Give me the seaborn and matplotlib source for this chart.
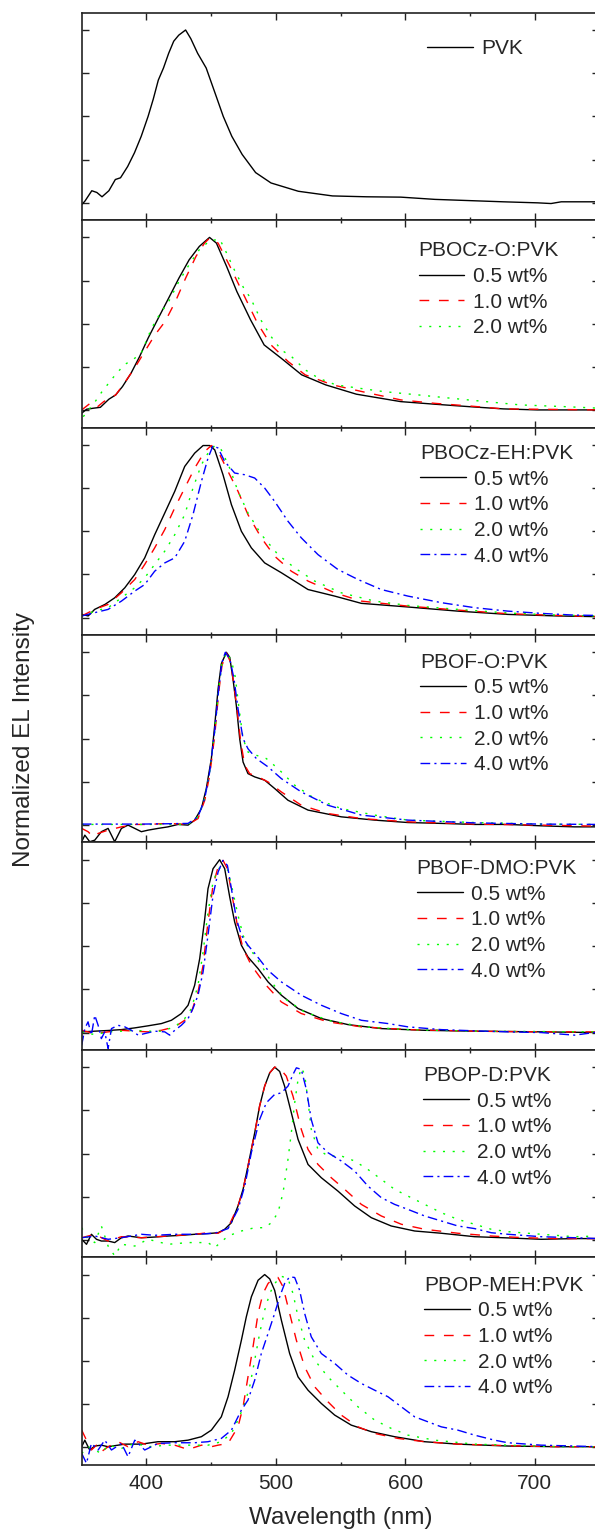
import numpy as np
import pandas as pd
import matplotlib
matplotlib.use("Agg")
import matplotlib.pyplot as plt
from matplotlib.ticker import FixedLocator
import seaborn as sns

# ---------------- data ----------------
CONCS = ["0.5 wt%", "1.0 wt%", "2.0 wt%", "4.0 wt%"]
COLORS = ["#000000", "#FF0000", "#00FF00", "#0000FF"]
PANEL_TITLES = ["PVK", "PBOCz-O:PVK", "PBOCz-EH:PVK", "PBOF-O:PVK",
                "PBOF-DMO:PVK", "PBOP-D:PVK", "PBOP-MEH:PVK"]
X_TICKS = [400, 500, 600, 700]
X_MINOR = [450, 550, 650]
Y_TICKS = [0, 0.25, 0.5, 0.75, 1.0]

# Panel 1: PVK
PVK_WL = [350, 352.5, 357.8, 361.7, 365.7, 371, 376, 380, 385.5, 390.8, 396, 401.3, 405.3, 409.2, 413.2,
          417.2, 421.1, 425, 430.3, 434.3, 439.6, 446.2, 454, 459.4, 466, 474, 484.4, 496.3, 517.4,
          543.8, 570.2, 596.6, 623, 649.5, 675.9, 702.3, 712.7, 720.6, 750]
PVK_I = [-0.01, 0.01, 0.07, 0.06, 0.035, 0.07, 0.135, 0.145, 0.21, 0.29, 0.385, 0.5, 0.6, 0.71, 0.78,
         0.865, 0.935, 0.97, 1.0, 0.95, 0.865, 0.78, 0.615, 0.5, 0.385, 0.28, 0.175, 0.115, 0.067,
         0.04, 0.035, 0.033, 0.02, 0.013, 0.006, 0.0, -0.004, 0.006, 0.006]

# Panel 2: PBOCz-O:PVK
P2_05_WL = [350, 353.8, 359.1, 364.4, 371, 376.3, 381.5, 388.1, 394.7, 401.3, 409.2, 417.2, 425.1, 433,
            440.9, 448.8, 454.1, 462, 469.9, 480.5, 491, 504.2, 520, 538.5, 562.3, 596.6, 623, 649.3,
            675.7, 702.1, 750]
P2_05_I = [-0.017, 0.006, 0.012, 0.017, 0.064, 0.089, 0.137, 0.214, 0.31, 0.417, 0.533, 0.649, 0.764,
           0.87, 0.948, 1.0, 0.967, 0.832, 0.687, 0.523, 0.378, 0.301, 0.205, 0.147, 0.093, 0.05, 0.035,
           0.021, 0.008, 0.002, 0.002]
P2_10_WL = [350, 356.5, 361.7, 367, 376.3, 382.8, 390.8, 398.7, 406.6, 414.5, 422.4, 430.3, 438.3, 444.9,
            448.8, 455.4, 464.6, 475.2, 485.8, 496.3, 509.5, 522.7, 543.8, 570.2, 596.6, 623, 649.3,
            675.7, 702.1, 750]
P2_10_I = [0.002, 0.04, 0.017, 0.05, 0.089, 0.156, 0.243, 0.34, 0.436, 0.514, 0.629, 0.764, 0.89, 0.967,
           0.996, 0.967, 0.832, 0.668, 0.504, 0.378, 0.282, 0.205, 0.147, 0.102, 0.06, 0.04, 0.025,
           0.008, 0.006, 0.002]
P2_20_WL = [351.2, 360.4, 365.7, 374.9, 382.8, 389.4, 396, 404, 409.2, 417.2, 425.1, 433, 440.9, 448.8,
            456.7, 462, 467.3, 475.2, 480.5, 488.4, 496.3, 504.2, 512.1, 522.7, 533.2, 546.4, 564.9,
            583.4, 609.8, 636.2, 662.5, 688.9, 723.2, 750]
P2_20_I = [-0.037, 0.05, 0.108, 0.195, 0.263, 0.292, 0.33, 0.475, 0.542, 0.629, 0.745, 0.842, 0.929,
           0.98, 0.99, 0.909, 0.822, 0.707, 0.649, 0.523, 0.427, 0.349, 0.311, 0.234, 0.185, 0.147,
           0.127, 0.108, 0.089, 0.069, 0.05, 0.031, 0.021, 0.012]

# Panel 3: PBOCz-EH:PVK
P3_05_WL = [350, 355, 360, 368, 375.5, 383.3, 391, 398.7, 406.4, 414.2, 421.9, 429.6, 437.3, 443.8,
            448.9, 452.8, 459.2, 465.7, 473.4, 481.1, 491.4, 504.3, 524.9, 545.5, 566.1, 602.1, 640.7,
            679.4, 718, 750]
P3_05_I = [0.02, 0.01, 0.048, 0.077, 0.115, 0.173, 0.25, 0.346, 0.48, 0.606, 0.731, 0.875, 0.952, 0.996,
           0.996, 0.971, 0.827, 0.654, 0.5, 0.404, 0.317, 0.26, 0.163, 0.125, 0.083, 0.062, 0.038,
           0.019, 0.01, 0.006]
P3_10_WL = [350, 360, 370.4, 380.7, 391, 398.7, 406.4, 414.2, 421.9, 429.6, 437.3, 445.1, 450.2, 455.4,
            463.1, 470.8, 478.5, 488.8, 499.1, 512, 524.9, 545.5, 566.1, 602.1, 640.7, 679.4, 718, 750]
P3_10_I = [0.01, 0.048, 0.077, 0.144, 0.221, 0.308, 0.404, 0.51, 0.635, 0.75, 0.865, 0.962, 0.996, 0.962,
           0.846, 0.731, 0.596, 0.462, 0.356, 0.269, 0.212, 0.144, 0.096, 0.067, 0.044, 0.023, 0.013,
           0.006]
P3_20_WL = [350, 360, 370.4, 380.7, 391, 398.7, 406.4, 414.2, 421.9, 429.6, 436, 442.5, 447.6, 452.8,
            457.9, 464.4, 470.8, 478.5, 488.8, 501.7, 514.6, 530, 550.6, 576.4, 602.1, 640.7, 679.4,
            718, 750]
P3_20_I = [0.01, 0.038, 0.058, 0.115, 0.173, 0.231, 0.308, 0.385, 0.48, 0.596, 0.75, 0.885, 0.952, 0.996,
           0.971, 0.865, 0.731, 0.606, 0.481, 0.365, 0.288, 0.212, 0.144, 0.096, 0.071, 0.048, 0.027,
           0.015, 0.01]
P3_40_WL = [350, 360, 370.4, 380.7, 391, 398.7, 406.4, 414.2, 421.9, 429.6, 436, 442.5, 447.6, 451.5,
            455.4, 460.5, 468.2, 476, 483.7, 491.4, 499.1, 509.4, 519.7, 532.6, 548, 563.5, 581.5,
            602.1, 627.9, 653.6, 679.4, 705.1, 730.8, 750]
P3_40_I = [0.01, 0.029, 0.048, 0.096, 0.154, 0.192, 0.269, 0.317, 0.346, 0.442, 0.596, 0.788, 0.923,
           0.996, 0.981, 0.904, 0.837, 0.827, 0.808, 0.75, 0.673, 0.558, 0.462, 0.365, 0.279, 0.221,
           0.163, 0.125, 0.087, 0.058, 0.038, 0.025, 0.015, 0.013]

# Panel 4: PBOF-O:PVK
P4_05_WL = [350, 352.4, 356.2, 360.1, 365.2, 370.4, 375.5, 380.7, 385.8, 391, 396.1, 401.3, 409, 416.7,
            424.5, 432.2, 437.3, 442.5, 446.3, 450.2, 452.8, 455.4, 457.9, 461.8, 464.4, 466.9, 469.5,
            472.1, 474.7, 478.5, 483.7, 491.4, 499.1, 509.4, 524.9, 550.6, 576.4, 602.1, 627.9, 653.6,
            679.4, 705.1, 730.8, 750]
P4_05_I = [-0.096, -0.058, -0.096, -0.087, -0.038, -0.019, -0.096, -0.019, 0.0, -0.019, -0.038, -0.029,
           -0.019, -0.01, 0.004, 0.0, 0.029, 0.096, 0.212, 0.385, 0.577, 0.788, 0.933, 1.0, 0.971, 0.846,
           0.692, 0.5, 0.365, 0.298, 0.279, 0.26, 0.212, 0.144, 0.087, 0.048, 0.029, 0.015, 0.01, 0.004,
           0.004, -0.004, -0.01, -0.01]
P4_10_WL = [350, 354.9, 358.8, 362.7, 370.4, 380.7, 391, 401.3, 416.7, 432.2, 439.9, 445.1, 448.9, 452.8,
            455.9, 458.4, 461.8, 465.1, 467.7, 470.3, 472.9, 476, 479.8, 486.3, 494, 504.3, 519.7,
            540.3, 566.1, 602.1, 653.6, 705.1, 750]
P4_10_I = [-0.019, -0.038, -0.067, -0.048, -0.029, -0.01, 0.004, 0.004, 0.01, 0.004, 0.038, 0.144, 0.288,
           0.519, 0.769, 0.923, 0.996, 0.942, 0.808, 0.654, 0.481, 0.346, 0.298, 0.279, 0.25, 0.192,
           0.115, 0.067, 0.038, 0.019, 0.006, 0.0, -0.006]
P4_20_WL = [350, 370.4, 396.1, 416.7, 432.2, 439.9, 445.1, 448.9, 452.8, 455.9, 458.4, 461.8, 465.7,
            468.7, 471.3, 474.7, 478.5, 485, 492.7, 501.7, 514.6, 530, 550.6, 576.4, 602.1, 653.6,
            705.1, 750]
P4_20_I = [0.004, 0.004, 0.004, 0.004, 0.004, 0.048, 0.154, 0.308, 0.538, 0.788, 0.933, 1.0, 0.952,
           0.856, 0.692, 0.5, 0.423, 0.404, 0.385, 0.327, 0.231, 0.154, 0.096, 0.058, 0.029, 0.015,
           0.006, 0.004]
P4_40_WL = [350, 370.4, 396.1, 416.7, 432.2, 439.9, 445.1, 448.9, 452.8, 455.9, 458.4, 461, 464.4, 467.7,
            470.8, 474.7, 478.5, 485, 494, 504.3, 519.7, 540.3, 566.1, 602.1, 653.6, 705.1, 750]
P4_40_I = [0.006, 0.006, 0.006, 0.008, 0.01, 0.048, 0.154, 0.308, 0.548, 0.788, 0.942, 1.0, 0.962, 0.846,
           0.673, 0.5, 0.442, 0.385, 0.337, 0.269, 0.192, 0.115, 0.058, 0.029, 0.013, 0.006, 0.004]

# Panel 5: PBOF-DMO:PVK
P5_05_WL = [350, 360.1, 370.4, 380.7, 391, 401.3, 411.6, 419.3, 427, 432.2, 437.3, 441.2, 445.1, 447.6,
            451.5, 456.6, 460.5, 464.4, 468.2, 473.4, 478.5, 486.3, 494, 504.3, 517.2, 535.2, 555.8,
            581.5, 615, 653.6, 705.1, 750]
P5_05_I = [0.004, 0.008, 0.012, 0.017, 0.027, 0.039, 0.052, 0.071, 0.11, 0.158, 0.274, 0.428, 0.659,
           0.832, 0.948, 1.0, 0.948, 0.784, 0.64, 0.505, 0.437, 0.37, 0.293, 0.216, 0.139, 0.081, 0.046,
           0.023, 0.013, 0.008, 0.004, 0.0]
P5_10_WL = [350, 360.1, 370.4, 380.7, 391, 401.3, 411.6, 421.9, 429.6, 434.8, 439.9, 443.8, 447.6, 451.5,
            455.4, 459.2, 462.6, 466.2, 470.3, 474.7, 481.1, 491.4, 504.3, 519.7, 540.3, 566.1, 602.1,
            653.6, 705.1, 750]
P5_10_I = [0.013, -0.006, 0.004, 0.013, 0.008, 0.004, 0.013, 0.033, 0.071, 0.119, 0.235, 0.389, 0.64,
           0.852, 0.958, 0.996, 0.948, 0.794, 0.62, 0.486, 0.389, 0.283, 0.177, 0.11, 0.062, 0.033,
           0.017, 0.008, 0.004, 0.004]
P5_20_WL = [350, 360.1, 370.4, 380.7, 391, 401.3, 411.6, 421.9, 429.6, 434.8, 439.9, 443.8, 447.6, 451.5,
            455.4, 459.2, 463.1, 466.9, 470.8, 474.7, 478.5, 483.7, 488.8, 496.6, 506.8, 522.3, 542.9,
            568.6, 602.1, 653.6, 750]
P5_20_I = [0.004, -0.012, 0.004, 0.008, 0.013, 0.008, 0.008, 0.033, 0.081, 0.139, 0.274, 0.466, 0.697,
           0.871, 0.948, 0.958, 0.938, 0.813, 0.678, 0.563, 0.495, 0.447, 0.389, 0.293, 0.197, 0.119,
           0.066, 0.033, 0.017, 0.008, 0.004]
P5_40_WL = [350, 352.4, 354.9, 357.5, 360.1, 362.7, 365.2, 367.8, 370.4, 373, 378.1, 383.3, 388.4, 393.6,
            398.7, 406.4, 414.2, 418, 421.9, 427, 432.2, 436, 439.9, 443.8, 447.6, 451.5, 455.4, 459.2,
            462.6, 465.7, 469.5, 473.4, 478.5, 485, 494, 504.3, 519.7, 535.2, 550.6, 566.1, 586.7,
            602.1, 627.9, 653.6, 679.4, 705.1, 730.8, 750]
P5_40_I = [-0.073, 0.023, 0.062, -0.015, 0.1, 0.042, -0.035, 0.004, -0.092, 0.023, 0.042, 0.033, 0.013,
           -0.015, -0.006, 0.008, 0.004, -0.015, 0.013, 0.042, 0.081, 0.139, 0.216, 0.351, 0.563, 0.794,
           0.929, 0.996, 0.967, 0.832, 0.659, 0.563, 0.505, 0.447, 0.36, 0.293, 0.216, 0.158, 0.11,
           0.071, 0.052, 0.033, 0.017, 0.01, 0.004, 0.0, -0.015, 0.004]

# Panel 6: PBOP-D:PVK
P6_05_WL = [350, 353.7, 357.5, 361.4, 365.2, 370.4, 375.5, 380.7, 385.8, 396.1, 406.4, 416.7, 427, 437.3,
            447.6, 455.4, 460.5, 465.7, 470.8, 474.7, 478.5, 483.7, 487.5, 491.4, 495.3, 499.1, 503,
            506.8, 512, 517.2, 524.9, 535.2, 548, 560.9, 573.8, 589.2, 607.3, 627.9, 653.6, 679.4,
            705.1, 730.8, 750]
P6_05_I = [0.004, -0.025, 0.033, 0.004, -0.006, -0.006, -0.015, 0.013, 0.023, 0.013, 0.017, 0.023, 0.027,
           0.033, 0.037, 0.042, 0.062, 0.1, 0.197, 0.293, 0.428, 0.62, 0.775, 0.89, 0.967, 1.0, 0.975,
           0.89, 0.736, 0.582, 0.437, 0.36, 0.283, 0.197, 0.129, 0.081, 0.052, 0.039, 0.019, 0.012,
           0.004, 0.008, 0.008]
P6_10_WL = [350, 360.1, 370.4, 380.7, 396.1, 416.7, 437.3, 447.6, 455.4, 463.1, 470.8, 474.7, 478.5,
            483.7, 487.5, 491.4, 495.3, 499.1, 503, 508.1, 513.3, 519.7, 524.9, 532.6, 542.9, 553.2,
            566.1, 581.5, 597, 615, 640.7, 666.5, 692.2, 718, 750]
P6_10_I = [0.013, 0.033, -0.006, 0.019, 0.013, 0.023, 0.033, 0.042, 0.039, 0.071, 0.197, 0.293, 0.428,
           0.62, 0.775, 0.89, 0.967, 1.0, 0.994, 0.948, 0.832, 0.64, 0.524, 0.437, 0.36, 0.293, 0.206,
           0.139, 0.091, 0.062, 0.039, 0.023, 0.013, 0.008, 0.008]
P6_20_WL = [350, 354.9, 360.1, 365.2, 370.4, 375.5, 380.7, 391, 401.3, 416.7, 432.2, 447.6, 452.8, 463.1,
            473.4, 483.7, 491.4, 496.6, 501.7, 505.6, 509.4, 512, 514.6, 517.2, 519.7, 522.3, 524.9,
            527.4, 532.6, 540.3, 550.6, 560.9, 571.2, 581.5, 591.8, 602.1, 615, 627.9, 640.7, 653.6,
            666.5, 679.4, 705.1, 730.8, 750]
P6_20_I = [0.071, 0.004, -0.015, 0.081, -0.035, -0.092, -0.025, -0.035, 0.004, -0.025, -0.015, -0.015,
           -0.044, 0.023, 0.052, 0.071, 0.071, 0.1, 0.158, 0.274, 0.466, 0.62, 0.794, 0.929, 0.996, 0.958,
           0.803, 0.64, 0.524, 0.486, 0.486, 0.457, 0.408, 0.351, 0.293, 0.254, 0.206, 0.158, 0.119,
           0.091, 0.062, 0.048, 0.033, 0.019, 0.023]
P6_40_WL = [350, 360.1, 370.4, 380.7, 396.1, 406.4, 421.9, 437.3, 452.8, 463.1, 470.8, 476, 481.1, 487.5,
            492.7, 499.1, 504.3, 509.4, 513.3, 515.9, 519.7, 523.6, 527.4, 532.6, 540.3, 550.6, 560.9,
            571.2, 581.5, 591.8, 602.1, 615, 627.9, 640.7, 653.6, 666.5, 679.4, 705.1, 730.8, 750]
P6_40_I = [0.013, 0.023, 0.004, 0.013, 0.033, 0.027, 0.033, 0.033, 0.039, 0.066, 0.177, 0.312, 0.505,
           0.697, 0.794, 0.842, 0.851, 0.89, 0.958, 0.996, 0.987, 0.871, 0.697, 0.562, 0.505, 0.457,
           0.399, 0.312, 0.245, 0.206, 0.177, 0.139, 0.11, 0.081, 0.066, 0.042, 0.033, 0.019, 0.013,
           0.008]

# Panel 7: PBOP-MEH:PVK
P7_05_WL = [350, 352.4, 356.2, 360.1, 365.2, 370.4, 383.3, 396.1, 409, 421.9, 432.2, 442.5, 450.2, 457.9,
            463.1, 468.2, 473.4, 477.2, 481.1, 486.3, 491.4, 495.3, 499.1, 504.3, 510.7, 517.2, 524.9,
            535.2, 545.5, 558.3, 573.8, 591.8, 615, 640.7, 679.4, 718, 750]
P7_05_I = [0.004, 0.042, -0.015, 0.008, 0.013, 0.004, 0.019, 0.019, 0.033, 0.033, 0.042, 0.062, 0.1,
           0.177, 0.293, 0.447, 0.62, 0.755, 0.871, 0.967, 1.0, 0.975, 0.909, 0.736, 0.543, 0.408, 0.331,
           0.254, 0.187, 0.129, 0.091, 0.062, 0.033, 0.019, 0.008, 0.004, 0.004]
P7_10_WL = [350, 353.7, 357.5, 361.4, 365.2, 370.4, 378.1, 385.8, 393.6, 401.3, 411.6, 421.9, 432.2,
            442.5, 450.2, 455.4, 463.1, 470.8, 474.7, 478.5, 482.4, 486.3, 490.1, 494, 497.8, 501.7,
            505.6, 510.7, 515.9, 522.3, 530, 540.3, 550.6, 563.5, 576.4, 594.4, 615, 640.7, 679.4,
            718, 750]
P7_10_I = [0.1, 0.042, -0.015, 0.013, -0.025, 0.004, 0.033, 0.004, 0.033, 0.013, 0.023, 0.013, -0.012,
           0.013, 0.004, 0.013, 0.023, 0.119, 0.235, 0.408, 0.582, 0.775, 0.89, 0.948, 0.977, 0.983,
           0.929, 0.775, 0.62, 0.466, 0.351, 0.264, 0.187, 0.119, 0.081, 0.052, 0.033, 0.019, 0.01,
           0.004, 0.004]
P7_20_WL = [350, 354.9, 360.1, 365.2, 370.4, 380.7, 391, 401.3, 416.7, 432.2, 447.6, 457.9, 465.7, 470.8,
            476, 479.8, 483.7, 487.5, 491.4, 495.3, 499.1, 504.3, 509.4, 513.3, 517.2, 522.3, 530,
            540.3, 550.6, 563.5, 576.4, 589.2, 602.1, 622.7, 653.6, 692.2, 718, 750]
P7_20_I = [-0.035, 0.004, -0.015, -0.035, 0.013, -0.006, 0.023, 0.004, 0.013, 0.013, 0.013, 0.033, 0.081,
           0.158, 0.254, 0.351, 0.505, 0.659, 0.794, 0.89, 0.948, 0.99, 0.977, 0.89, 0.755, 0.62, 0.505,
           0.408, 0.331, 0.235, 0.158, 0.11, 0.071, 0.042, 0.019, 0.01, 0.004, 0.004]
P7_40_WL = [350, 353.7, 357.5, 362.7, 367.8, 373, 380.7, 385.8, 391, 398.7, 409, 421.9, 437.3, 447.6,
            457.9, 465.7, 473.4, 478.5, 483.7, 488.8, 494, 499.1, 503, 506.8, 510.7, 514.6, 518.4,
            522.3, 527.4, 535.2, 545.5, 555.8, 566.1, 576.4, 586.7, 597, 607.3, 617.6, 627.9, 640.7,
            653.6, 669, 679.4, 705.1, 730.8, 750]
P7_40_I = [-0.035, -0.092, 0.023, -0.015, 0.042, -0.015, 0.023, -0.054, 0.042, -0.015, 0.023, 0.027,
           0.027, 0.033, 0.052, 0.1, 0.216, 0.274, 0.389, 0.543, 0.659, 0.775, 0.871, 0.948, 0.987,
           0.983, 0.909, 0.775, 0.64, 0.543, 0.486, 0.418, 0.37, 0.331, 0.293, 0.235, 0.177, 0.148,
           0.119, 0.1, 0.071, 0.042, 0.027, 0.013, 0.008, 0.004]

PANELS = [
    [(PVK_WL, PVK_I)],
    [(P2_05_WL, P2_05_I), (P2_10_WL, P2_10_I), (P2_20_WL, P2_20_I)],
    [(P3_05_WL, P3_05_I), (P3_10_WL, P3_10_I), (P3_20_WL, P3_20_I), (P3_40_WL, P3_40_I)],
    [(P4_05_WL, P4_05_I), (P4_10_WL, P4_10_I), (P4_20_WL, P4_20_I), (P4_40_WL, P4_40_I)],
    [(P5_05_WL, P5_05_I), (P5_10_WL, P5_10_I), (P5_20_WL, P5_20_I), (P5_40_WL, P5_40_I)],
    [(P6_05_WL, P6_05_I), (P6_10_WL, P6_10_I), (P6_20_WL, P6_20_I), (P6_40_WL, P6_40_I)],
    [(P7_05_WL, P7_05_I), (P7_10_WL, P7_10_I), (P7_20_WL, P7_20_I), (P7_40_WL, P7_40_I)],
]

# ---------------- styling ----------------
sns.set_theme(style="ticks")
FONT = ["Liberation Sans", "DejaVu Sans"]
plt.rcParams["font.family"] = FONT
plt.rcParams["lines.scale_dashes"] = True

DASHES = ["", (7, 7), (1.5, 5.5), (7, 3, 1.5, 3)]
W, H = 595, 1536
fig, axes = plt.subplots(7, 1, figsize=(W / 100, H / 100), dpi=100, sharex=True)
fig.subplots_adjust(left=81.7 / W, right=599.3 / W, top=1 - 12.7 / H, bottom=1 - 1464.7 / H, hspace=0)

# legend anchors: (left x px, centre y px of the first text row)
LEG_POS = [(426.9, 46.7), (418.5, 249.0), (420, 451.7), (420, 660.3), (416.7, 866.7),
           (423.3, 1073.5), (424.3, 1283.3)]
FS = 15
TEXT_H = 1.117 * FS * 100 / 72  # approx text box height in px

for i, ax in enumerate(axes):
    series = PANELS[i]
    frames = []
    for k, (wl, inten) in enumerate(series):
        label = "PVK" if i == 0 else CONCS[k]
        frames.append(pd.DataFrame({"wl": wl, "I": inten, "conc": label}))
    df = pd.concat(frames, ignore_index=True)
    n = len(series)
    sns.lineplot(data=df, x="wl", y="I", hue="conc", style="conc",
                 palette=COLORS[:n], dashes=DASHES[:n], estimator=None, sort=False,
                 linewidth=1.0, legend=False, ax=ax)
    ax.set_xlim(350, 750)
    ax.set_ylim(-0.1, 1.1)
    ax.xaxis.set_major_locator(FixedLocator(X_TICKS))
    ax.xaxis.set_minor_locator(FixedLocator(X_MINOR))
    ax.yaxis.set_major_locator(FixedLocator(Y_TICKS))
    ax.tick_params(which="both", direction="in", top=True, right=True, bottom=True, left=True,
                   labelleft=False, color="#222222", width=1.0)
    ax.tick_params(which="major", length=5)
    ax.tick_params(which="minor", length=2.5)
    ax.tick_params(axis="x", labelbottom=(i == 6), labelsize=15, pad=7)
    ax.set_xlabel("")
    ax.set_ylabel("")
    for sp in ax.spines.values():
        sp.set_color("#222222")
        sp.set_linewidth(1.2)

    handles = ax.get_lines()[:n]
    labels = ["PVK"] if i == 0 else CONCS[:n]
    lx, ly = LEG_POS[i]
    anchor = (lx / W, 1 - (ly - TEXT_H / 2 + 4) / H)
    ax.legend(handles, labels, title=None if i == 0 else PANEL_TITLES[i],
              loc="upper left", bbox_to_anchor=anchor, bbox_transform=fig.transFigure,
              frameon=False, borderpad=0, borderaxespad=0, fontsize=FS, title_fontsize=FS,
              handlelength=2.2, handletextpad=0.4, labelspacing=0.32, alignment="left")

axes[-1].set_xlabel("Wavelength (nm)", fontsize=17.5)
axes[-1].xaxis.set_label_coords(0.5, -(1518 - 1464.7) / 207.4)
axes[-1].xaxis.label.set_va("center")

fig.text(24 / W, 1 - 739 / H, "Normalized EL Intensity", rotation=90, ha="center", va="center",
         fontsize=17.5)

fig.savefig("out.png", dpi=100)
